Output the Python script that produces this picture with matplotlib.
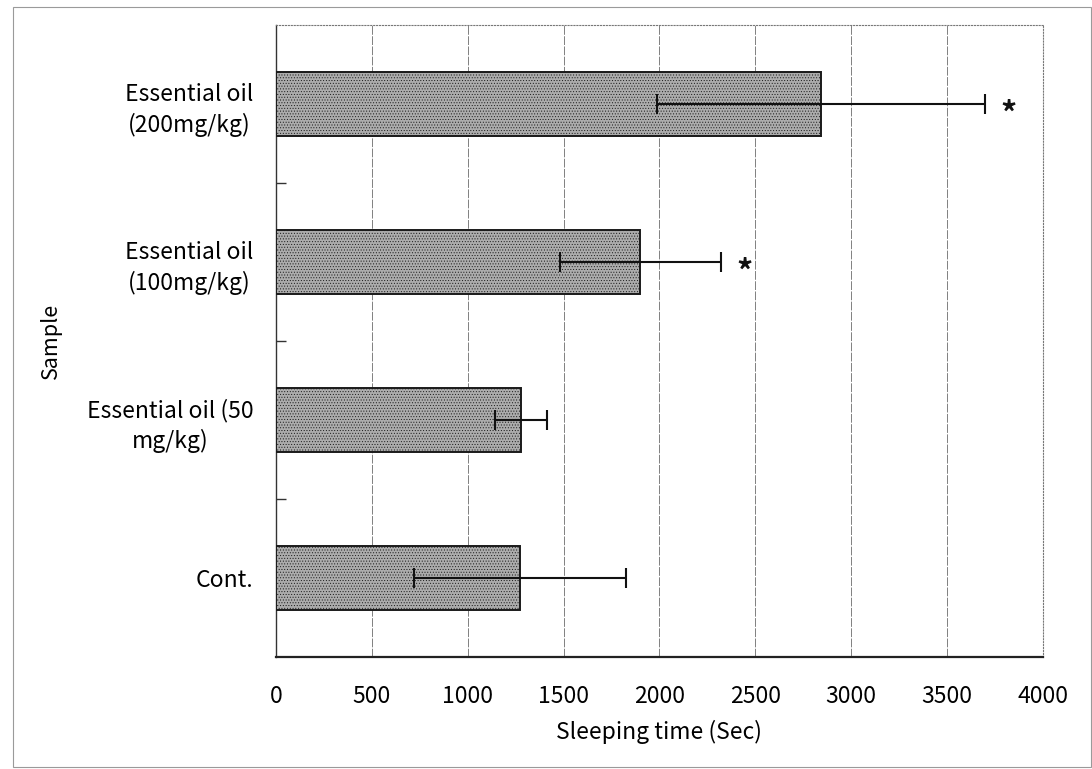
import matplotlib
matplotlib.use("Agg")
import matplotlib.pyplot as plt
from matplotlib.patches import Rectangle

plt.rcParams['font.family'] = ['Noto Sans CJK JP', 'DejaVu Sans']
plt.rcParams['hatch.color'] = '#7a7a7a'
plt.rcParams['hatch.linewidth'] = 0.4

# data, bottom to top
samples = ["Cont.", "Essential oil (50\nmg/kg)", "Essential oil\n(100mg/kg)", "Essential oil\n(200mg/kg)"]
sleep_time = [1274, 1279, 1901, 2841]
sleep_sd = [553, 136, 418, 855]
significant = [False, False, True, True]
x_ticks = [0, 500, 1000, 1500, 2000, 2500, 3000, 3500, 4000]

fig = plt.figure(figsize=(10.92, 7.69), dpi=100)
ax = fig.add_axes([0.2527, 0.1456, 0.7024, 0.822])

pos = list(range(len(samples)))
ax.barh(pos, sleep_time, height=0.41, color='#acacac', edgecolor='#1a1a1a',
        linewidth=1.4, hatch='......', zorder=3)
ax.errorbar(sleep_time, pos, xerr=sleep_sd, fmt='none', ecolor='#111111',
            elinewidth=1.5, capsize=7, capthick=1.5, zorder=4)

# significance marks
for p, v, s, sig in zip(pos, sleep_time, sleep_sd, significant):
    if sig:
        ax.text(v + s + 125, p - 0.07, '*', ha='center', va='center',
                fontsize=23, fontweight='bold', color='#111111')

ax.set_xlim(0, 4000)
ax.set_ylim(-0.5, 3.5)
ax.set_xticks(x_ticks)
ax.set_xticklabels([str(t) for t in x_ticks], fontsize=16.5)
ax.set_yticks(pos)
ax.set_yticklabels(samples, fontsize=16.5, multialignment='center', linespacing=1.35)
ax.set_yticks([0.5, 1.5, 2.5], minor=True)
ax.tick_params(axis='y', which='major', length=0, pad=16)
ax.tick_params(axis='y', which='minor', length=7, direction='in', width=1, color='#333333')
ax.tick_params(axis='x', which='major', length=0, pad=20)

ax.grid(axis='x', color='#808080', linestyle=(0, (9, 1.5)), linewidth=0.7, zorder=1)

ax.spines['top'].set_linestyle(':')
ax.spines['top'].set_color('#777777')
ax.spines['right'].set_linestyle(':')
ax.spines['right'].set_color('#777777')
ax.spines['left'].set_color('#333333')
ax.spines['left'].set_linewidth(1.0)
ax.spines['bottom'].set_color('#222222')
ax.spines['bottom'].set_linewidth(1.6)

ax.set_xlabel('Sleeping time (Sec)', fontsize=16.5)
ax.set_ylabel('Sample', fontsize=15.5)
ax.xaxis.set_label_coords(0.5, -0.10)
ax.yaxis.set_label_coords(-0.279, 0.5)

# outer chart-area frame
fig.add_artist(Rectangle((13 / 1092, 2 / 769), 1078 / 1092, 760 / 769,
                         transform=fig.transFigure, fill=False,
                         edgecolor='#9a9a9a', linewidth=0.8))

fig.savefig('out.png', dpi=100)
